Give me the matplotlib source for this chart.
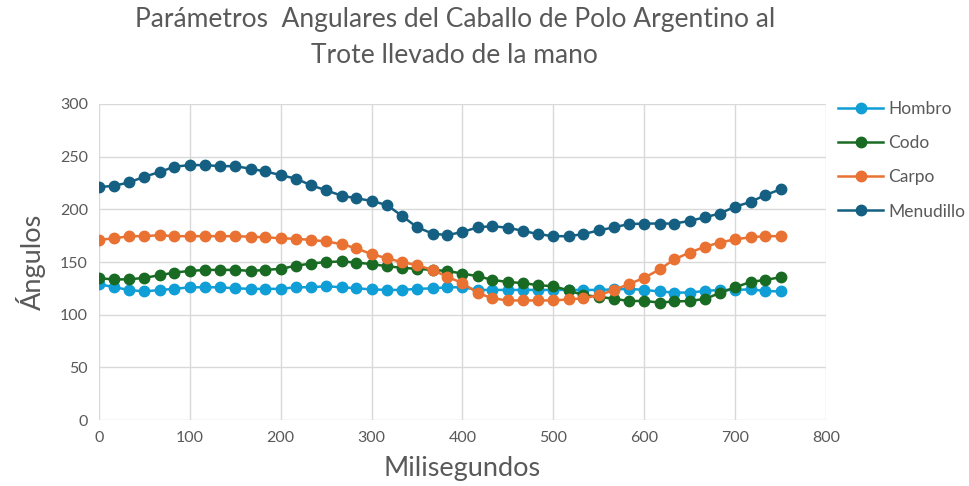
import matplotlib.pyplot as plt

plt.rcParams['font.family'] = ['Lato', 'DejaVu Sans']

# tiempo (ms)
tiempo = [0, 17, 33, 50, 67, 83, 100, 117, 133, 150, 167, 183, 200, 217, 233,
          250, 267, 283, 300, 317, 333, 350, 367, 383, 400, 417, 433, 450, 467,
          483, 500, 517, 533, 550, 567, 583, 600, 617, 633, 650, 667, 683, 700,
          717, 733, 750]

hombro = [129, 126, 123.5, 122, 123.5, 124.5, 126, 126, 126, 125, 124.5, 124.5,
          124.5, 126, 126, 127, 126, 125, 124, 123.5, 123.5, 124.5, 125, 126,
          126, 123.5, 123.5, 123.5, 123.5, 123.5, 123.5, 123.5, 123.5, 123.5,
          124, 124.5, 123.5, 122, 121, 121, 122.5, 123.5, 123.5, 124, 122.5, 122]

codo = [134.5, 133.5, 133.5, 135, 137.5, 140, 141.5, 142.5, 142.5, 142.5, 141.5,
        142.5, 143.5, 146.5, 148.5, 150, 150.5, 149.5, 148, 146, 144.5, 143.5,
        142.5, 141.5, 139, 136.5, 133, 131, 130, 128, 127, 123, 118.5, 117,
        115, 113, 113, 111.5, 112.5, 113, 115, 120.5, 126, 131, 133, 135.5]

carpo = [171, 172.5, 174.5, 174.5, 175.5, 174.5, 174.5, 174.5, 174.5, 174.5,
         174, 173.5, 172.5, 172, 171, 169.5, 167, 163, 157.5, 153.5, 150, 147,
         142.5, 136, 130, 120.5, 115.5, 113.5, 113.5, 113.5, 113.5, 114.5,
         115.5, 118.5, 123.5, 129, 135, 143, 152.5, 159, 164.5, 168.5, 171.5,
         173.5, 174.5, 174.5]

menudillo = [221, 222.5, 225.5, 231, 235.5, 240.5, 242, 242, 241, 241, 238.5,
             236, 232.5, 229, 223, 218, 213, 210.5, 208, 204, 194, 183, 177,
             175.5, 178.5, 183, 184, 182.5, 179.5, 176.5, 174.5, 174.5, 176.5,
             180, 183, 186, 186.5, 186.5, 186.5, 189, 192.5, 196, 202.5, 207,
             213.5, 219]

series = [('Hombro', hombro, '#0F9ED5'),
          ('Codo', codo, '#196B24'),
          ('Carpo', carpo, '#E97132'),
          ('Menudillo', menudillo, '#156082')]

fig = plt.figure(figsize=(9.7, 4.86), dpi=100)
ax = fig.add_axes([99 / 970, 1 - 420 / 486, 727 / 970, 316 / 486])

for nombre, valores, color in series:
    ax.plot(tiempo, valores, color=color, marker='o', markersize=7.5,
            linewidth=1.8, label=nombre)

ax.set_xlim(0, 800)
ax.set_ylim(0, 300)
ax.set_xticks(range(0, 801, 100))
ax.set_yticks(range(0, 301, 50))
ax.grid(True, color='#d9d9d9', linewidth=1)
ax.set_axisbelow(True)
for s in ax.spines.values():
    s.set_visible(False)
ax.tick_params(length=0, labelsize=11.5, colors='#595959', pad=8)

ax.set_xlabel('Milisegundos', fontsize=19.5, color='#595959', labelpad=8)
ax.set_ylabel('Ángulos', fontsize=19.5, color='#595959', labelpad=10)

fig.suptitle('Parámetros  Angulares del Caballo de Polo Argentino al\nTrote llevado de la mano',
             x=0.469, y=0.985, fontsize=19, color='#595959', linespacing=1.55)

leg = ax.legend(loc='upper left', bbox_to_anchor=(0.993, 1.065), frameon=False,
                fontsize=12.5, labelspacing=1.05, handlelength=2.6,
                handletextpad=0.3, borderaxespad=0.6)
for t in leg.get_texts():
    t.set_color('#595959')

fig.savefig('out.png', dpi=100)
